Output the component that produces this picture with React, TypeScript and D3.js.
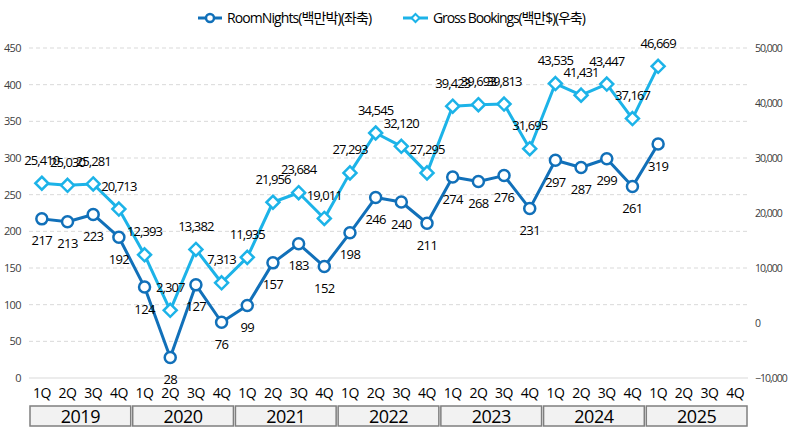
import * as d3 from 'd3'

const years = ['2019', '2020', '2021', '2022', '2023', '2024', '2025']
const quarters = ['1Q', '2Q', '3Q', '4Q']
const roomNights = [
  217, 213, 223, 192, 124, 28, 127, 76, 99, 157, 183, 152, 198, 246, 240, 211,
  274, 268, 276, 231, 297, 287, 299, 261, 319,
]
const grossBookings = [
  25410, 25030, 25281, 20713, 12393, 2307, 13382, 7313, 11935, 21956, 23684,
  19011, 27293, 34545, 32120, 27295, 39423, 39693, 39813, 31695, 43535, 41431,
  43447, 37167, 46669,
]
const leftTicks = [0, 50, 100, 150, 200, 250, 300, 350, 400, 450]
const rightTicks = [-10000, 0, 10000, 20000, 30000, 40000, 50000]

const W = 788
const H = 439
const FONT = '"Open Sans", "Noto Sans CJK KR", sans-serif'
const C_ROOM = '#1170b9'
const C_GROSS = '#1cb3e8'

export default function App() {
  const plot = { left: 29, right: 748, top: 48, bottom: 378 }
  const cats = years.flatMap(y => quarters.map(q => `${y}-${q}`))
  const x = d3
    .scaleBand<string>()
    .domain(cats)
    .range([plot.left, plot.right])
  const cx = (i: number) => (x(cats[i]) ?? 0) + x.bandwidth() / 2
  const yL = d3.scaleLinear().domain([0, 450]).range([plot.bottom, plot.top])
  const yR = d3
    .scaleLinear()
    .domain([-10000, 50000])
    .range([plot.bottom, plot.top])

  const lineL = d3
    .line<number>()
    .x((_, i) => cx(i))
    .y(d => yL(d))
  const lineR = d3
    .line<number>()
    .x((_, i) => cx(i))
    .y(d => yR(d))
  const fmt = d3.format(',')
  const diamond = (s: number) => `M0,${-s}L${s},0L0,${s}L${-s},0Z`

  return (
    <svg
      width={W}
      height={H}
      style={{ position: 'absolute', left: 0, top: 0, background: '#fff' }}
      fontFamily={FONT}
    >
      {/* grid */}
      {leftTicks.map(t => (
        <line
          key={t}
          x1={plot.left}
          x2={plot.right}
          y1={yL(t)}
          y2={yL(t)}
          stroke="#d9d9d9"
          strokeDasharray={t === 0 ? undefined : '4,3'}
        />
      ))}
      {/* left axis */}
      {leftTicks.map(t => (
        <text
          key={t}
          x={21}
          y={yL(t)}
          dy="0.35em"
          textAnchor="end"
          fontSize={11}
          letterSpacing={-0.6}
          fill="#404040"
        >
          {t}
        </text>
      ))}
      {/* right axis */}
      {rightTicks.map(t => (
        <text
          key={t}
          x={755}
          y={yR(t)}
          dy="0.35em"
          fontSize={10.5}
          letterSpacing={-1}
          fill="#404040"
        >
          {fmt(t)}
        </text>
      ))}
      {/* quarters */}
      {cats.map((c, i) => (
        <text
          key={c}
          x={cx(i)}
          y={393}
          dy="0.35em"
          textAnchor="middle"
          fontSize={14}
          letterSpacing={-0.5}
          fill="#000"
        >
          {quarters[i % 4]}
        </text>
      ))}
      {/* years */}
      {years.map(y => {
        const x0 = x(`${y}-1Q`) ?? 0
        const w = x.bandwidth() * 4
        return (
          <g key={y}>
            <rect
              x={x0 + 1}
              y={406}
              width={w - 2}
              height={20}
              fill="#f2f2f2"
              stroke="#7f7f7f"
              strokeWidth={1.5}
            />
            <text
              x={x0 + w / 2}
              y={416.5}
              dy="0.35em"
              textAnchor="middle"
              fontSize={18}
              letterSpacing={-0.5}
              fill="#000"
            >
              {y}
            </text>
          </g>
        )
      })}
      {/* gross bookings */}
      <path
        d={lineR(grossBookings) ?? ''}
        fill="none"
        stroke={C_GROSS}
        strokeWidth={3}
        strokeLinejoin="round"
      />
      {grossBookings.map((v, i) => (
        <path
          key={i}
          d={diamond(6.5)}
          transform={`translate(${cx(i)},${yR(v)})`}
          fill="#fff"
          stroke={C_GROSS}
          strokeWidth={2.5}
        />
      ))}
      {/* room nights */}
      <path
        d={lineL(roomNights) ?? ''}
        fill="none"
        stroke={C_ROOM}
        strokeWidth={3}
        strokeLinejoin="round"
      />
      {roomNights.map((v, i) => (
        <circle
          key={i}
          cx={cx(i)}
          cy={yL(v)}
          r={5.5}
          fill="#fff"
          stroke={C_ROOM}
          strokeWidth={2.5}
        />
      ))}
      {/* labels */}
      {grossBookings.map((v, i) => (
        <text
          key={i}
          x={cx(i)}
          y={yR(v) - 23}
          dy="0.35em"
          textAnchor="middle"
          fontSize={13}
          letterSpacing={-0.9}
          fill="#000"
        >
          {fmt(v)}
        </text>
      ))}
      {roomNights.map((v, i) => (
        <text
          key={i}
          x={cx(i)}
          y={yL(v) + 22}
          dy="0.35em"
          textAnchor="middle"
          fontSize={13}
          letterSpacing={-0.6}
          fill="#000"
        >
          {v}
        </text>
      ))}
      {/* legend */}
      <g transform="translate(198,18)">
        <line x1={0} x2={24} stroke={C_ROOM} strokeWidth={3} />
        <circle cx={12} r={4} fill="#fff" stroke={C_ROOM} strokeWidth={2.5} />
        <text x={29} dy="0.35em" fontSize={14} letterSpacing={-0.9} fill="#000">
          RoomNights(백만박)(좌축)
        </text>
      </g>
      <g transform="translate(403,18)">
        <line x1={0} x2={25} stroke={C_GROSS} strokeWidth={3} />
        <path
          d={diamond(4)}
          transform="translate(12.5,0)"
          fill="#fff"
          stroke={C_GROSS}
          strokeWidth={2}
        />
        <text x={30} dy="0.35em" fontSize={14} letterSpacing={-1.1} fill="#000">
          Gross Bookings(백만$)(우축)
        </text>
      </g>
    </svg>
  )
}
